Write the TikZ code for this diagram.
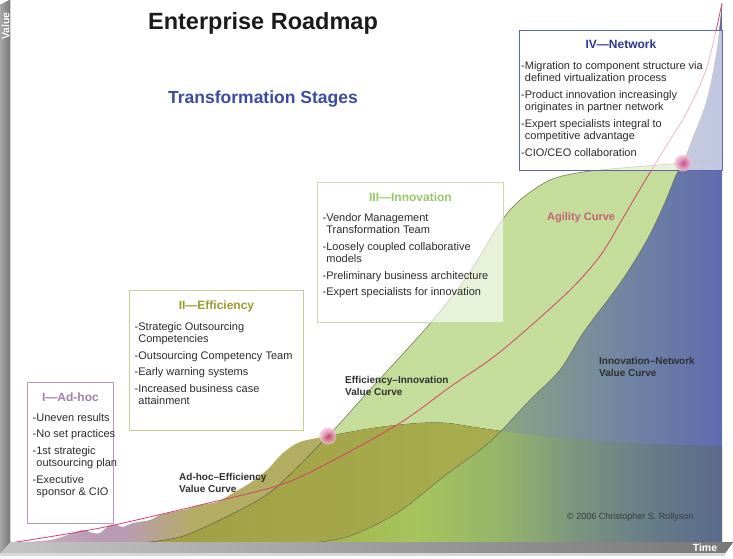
\documentclass[tikz,border=0pt]{standalone}
\usepackage{fontspec}
\setmainfont{Liberation Sans}
\usepackage{tikz}
\usetikzlibrary{positioning}

\definecolor{titleblack}{HTML}{1A1A1A}
\definecolor{stagesblue}{HTML}{3B4BA3}
\definecolor{boxtext}{HTML}{2B2B2B}
\definecolor{labeltext}{HTML}{303030}
\definecolor{copytext}{HTML}{3A3A3A}
\definecolor{adhocline}{HTML}{B497BC}
\definecolor{adhoctext}{HTML}{A27EAA}
\definecolor{effline}{HTML}{CCCC8E}
\definecolor{efftext}{HTML}{9A9A2E}
\definecolor{innovline}{HTML}{C9DDAA}
\definecolor{innovtext}{HTML}{9BC567}
\definecolor{netline}{HTML}{5C66B0}
\definecolor{nettext}{HTML}{2E3792}
\definecolor{agilityred}{HTML}{D4406F}
\definecolor{agilitytext}{HTML}{C3627B}
\definecolor{mauvelight}{HTML}{CDB7CB}
\definecolor{mauvefill}{HTML}{B99BB4}
\definecolor{khakifill}{HTML}{B3AD63}
\definecolor{innovgreen}{HTML}{C4DD9A}
\definecolor{effolivel}{HTML}{9E9A3E}
\definecolor{effoliver}{HTML}{ABB655}
\definecolor{netA}{HTML}{A6C45A}
\definecolor{netB}{HTML}{A0C060}
\definecolor{netC}{HTML}{84A088}
\definecolor{netD}{HTML}{7286A2}
\definecolor{netE}{HTML}{5E6CAE}
\definecolor{ndA}{HTML}{A2B24A}
\definecolor{ndB}{HTML}{A6C45C}
\definecolor{ndC}{HTML}{94B46A}
\definecolor{ndD}{HTML}{7A9480}
\definecolor{ndE}{HTML}{687E88}
\definecolor{ndF}{HTML}{5A6A8C}
\definecolor{dotcore}{HTML}{CC3377}
\definecolor{dotrim}{HTML}{F3CADA}
\definecolor{edgegray}{HTML}{6B6B58}
\definecolor{axisgray}{HTML}{787878}
\definecolor{axislight}{HTML}{C4C4C4}
\definecolor{axisedge}{HTML}{A8A8A8}
\definecolor{axisshadow}{HTML}{D8D8D8}

\pgfdeclarehorizontalshading{adhocshade}{100bp}{color(0bp)=(mauvelight); color(25bp)=(mauvelight); color(31bp)=(mauvefill); color(33bp)=(mauvefill); color(38bp)=(khakifill); color(100bp)=(khakifill)}
\pgfdeclarehorizontalshading{networkshade}{100bp}{color(0bp)=(netA); color(25bp)=(netA); color(39bp)=(netB); color(51bp)=(netC); color(63bp)=(netD); color(75bp)=(netE); color(100bp)=(netE)}
\pgfdeclarehorizontalshading{networkdarkshade}{100bp}{color(0bp)=(ndA); color(25bp)=(ndA); color(39bp)=(ndB); color(49bp)=(ndC); color(58bp)=(ndD); color(66bp)=(ndE); color(75bp)=(ndF); color(100bp)=(ndF)}

\newcommand\adhoccurve{plot[smooth] coordinates {(10,543) (50,540) (73,533) (83,530) (93,533) (100,533) (110,525) (117,525) (123,527) (133,523) (150,520) (160,515) (173,512) (187,509) (200,505) (217,502) (233,493) (250,483) (267,470) (283,453) (300,442) (328,436) (380,427) (420,423) (447,423) (480,428) (547,437) (613,442) (680,445) (722,446)}}
\newcommand\effinnovcurve{plot[smooth] coordinates {(130,544) (180,537) (230,515) (273,490) (328,436) (367,393) (400,357) (433,320) (468,275) (500,223) (520,200) (550,180) (583,172) (633,167) (683,163) (722,159)}}
\newcommand\innovnetcurve{plot[smooth] coordinates {(300,544) (347,537) (397,513) (447,474) (480,450) (500,432) (530,400) (560,370) (583,333) (610,297) (627,273) (647,240) (663,207) (677,173) (683,163) (692,140) (707,100) (717,50) (722,5)}}
\newcommand\wrapin{\hspace*{3.7pt}}

\begin{document}
\begin{tikzpicture}[x=1pt,y=-1pt,
    stagebox/.style={draw, line width=0.9pt, fill=white, fill opacity=0.62, anchor=north west, inner sep=0},
    stagetitle/.style={font=\fontsize{12}{14}\selectfont\bfseries, inner sep=0},
    stagelist/.style={font=\fontsize{11}{12.5}\selectfont, text=boxtext, align=left, inner sep=0},
    curvelabel/.style={font=\fontsize{10}{12}\selectfont\bfseries, text=labeltext, align=left, anchor=west, inner sep=0},
    glowdot/.style={circle, minimum size=17pt, inner sep=0, inner color=dotcore, outer color=dotrim, opacity=0.8},
    waveedge/.style={draw=edgegray, line width=0.5pt},
    agility/.style={draw=agilityred, line width=0.8pt},
    axistag/.style={font=\fontsize{10.5}{12}\selectfont\bfseries, text=white, inner sep=0}]
  \useasboundingbox (0,0) rectangle (733,558);

  \shade[shading=adhocshade] \adhoccurve -- (722,543) -- (10,543) -- cycle;
  \fill[innovgreen] \effinnovcurve -- (722,543) -- cycle;
  \begin{scope}
    \clip \effinnovcurve -- (722,543) -- cycle;
    \fill[left color=effolivel, right color=effoliver] \adhoccurve -- (722,543) -- (10,543) -- cycle;
  \end{scope}
  \shade[shading=networkshade] \innovnetcurve -- (722,543) -- cycle;
  \begin{scope}
    \clip \adhoccurve -- (722,543) -- (10,543) -- cycle;
    \shade[shading=networkdarkshade] \innovnetcurve -- (722,543) -- cycle;
  \end{scope}
  \draw[waveedge] \effinnovcurve;
  \draw[waveedge] \innovnetcurve;
  \draw[agility] plot[smooth] coordinates {(10,543) (100,528) (200,505) (280,485) (330,462) (400,423) (450,387) (500,352) (567,293) (600,256) (623,218) (640,189) (657,161) (670,140) (687,112) (707,67) (722,3)};

  \node[stagebox, draw=adhocline, minimum width=86pt, minimum height=141pt] (adhocbox) at (27,382) {};
  \node[stagetitle, text=adhoctext, below=19pt of adhocbox.north, anchor=base] (adhoctitle) {I—Ad-hoc};
  \node[stagelist, below right=31pt and 5.5pt of adhocbox.north west] (adhoclist) {-Uneven results\\[4pt]-No set practices\\[4pt]-1st strategic\\\wrapin outsourcing plan\\[4pt]-Executive\\\wrapin sponsor \& CIO};

  \node[stagebox, draw=effline, minimum width=174pt, minimum height=140pt] (effbox) at (129,290) {};
  \node[stagetitle, text=efftext, below=19pt of effbox.north, anchor=base] (efftitle) {II—Efficiency};
  \node[stagelist, below right=32pt and 5.5pt of effbox.north west] (efflist) {-Strategic Outsourcing\\\wrapin Competencies\\[4pt]-Outsourcing Competency Team\\[4pt]-Early warning systems\\[4pt]-Increased business case\\\wrapin attainment};

  \node[stagebox, draw=innovline, minimum width=186pt, minimum height=140pt] (innovbox) at (317,182) {};
  \node[stagetitle, text=innovtext, below=19pt of innovbox.north, anchor=base] (innovtitle) {III—Innovation};
  \node[stagelist, below right=31pt and 5.5pt of innovbox.north west] (innovlist) {-Vendor Management\\\wrapin Transformation Team\\[4pt]-Loosely coupled collaborative\\\wrapin models\\[4pt]-Preliminary business architecture\\[4pt]-Expert specialists for innovation};

  \node[stagebox, draw=netline, minimum width=203pt, minimum height=140pt] (netbox) at (519,30) {};
  \node[stagetitle, text=nettext, below=18pt of netbox.north, anchor=base] (nettitle) {IV—Network};
  \node[stagelist, below right=31pt and 2pt of netbox.north west] (netlist) {-Migration to component structure via\\\wrapin defined virtualization process\\[4pt]-Product innovation increasingly\\\wrapin originates in partner network\\[4pt]-Expert specialists integral to\\\wrapin competitive advantage\\[4pt]-CIO/CEO collaboration};

  \node[glowdot] (effdot) at (328,436) {};
  \node[glowdot] (netdot) at (683,163) {};

  \node[font=\fontsize{23.5}{28}\selectfont\bfseries, text=titleblack] (title) at (263,23) {Enterprise Roadmap};
  \node[font=\fontsize{17.5}{21}\selectfont\bfseries, text=stagesblue] (stages) at (263,99) {Transformation Stages};

  \node[curvelabel] (adhoclabel) at (179,483) {Ad-hoc–Efficiency\\Value Curve};
  \node[curvelabel] (efflabel) at (345,386) {Efficiency–Innovation\\Value Curve};
  \node[curvelabel] (netlabel) at (599,367) {Innovation–Network\\Value Curve};
  \node[curvelabel, font=\fontsize{11}{13}\selectfont\bfseries, text=agilitytext] (agilitylabel) at (547,218) {Agility Curve};
  \node[font=\fontsize{9}{11}\selectfont, text=copytext, anchor=west, inner sep=0] (copyright) at (567,517) {© 2006 Christopher S. Rollyson};

  \fill[left color=axisedge, right color=axisgray] (0,5) -- (10,0) -- (10,542) -- (0,553) -- cycle;
  \fill[left color=axislight, right color=axisgray] (0,553) -- (10,542) -- (733,542) -- (725,553) -- cycle;
  \fill[axisshadow] (0,553) rectangle (725,556);
  \node[axistag, rotate=90] (valuetag) at (5.5,26) {Value};
  \node[axistag] (timetag) at (705,548) {Time};
\end{tikzpicture}
\end{document}
